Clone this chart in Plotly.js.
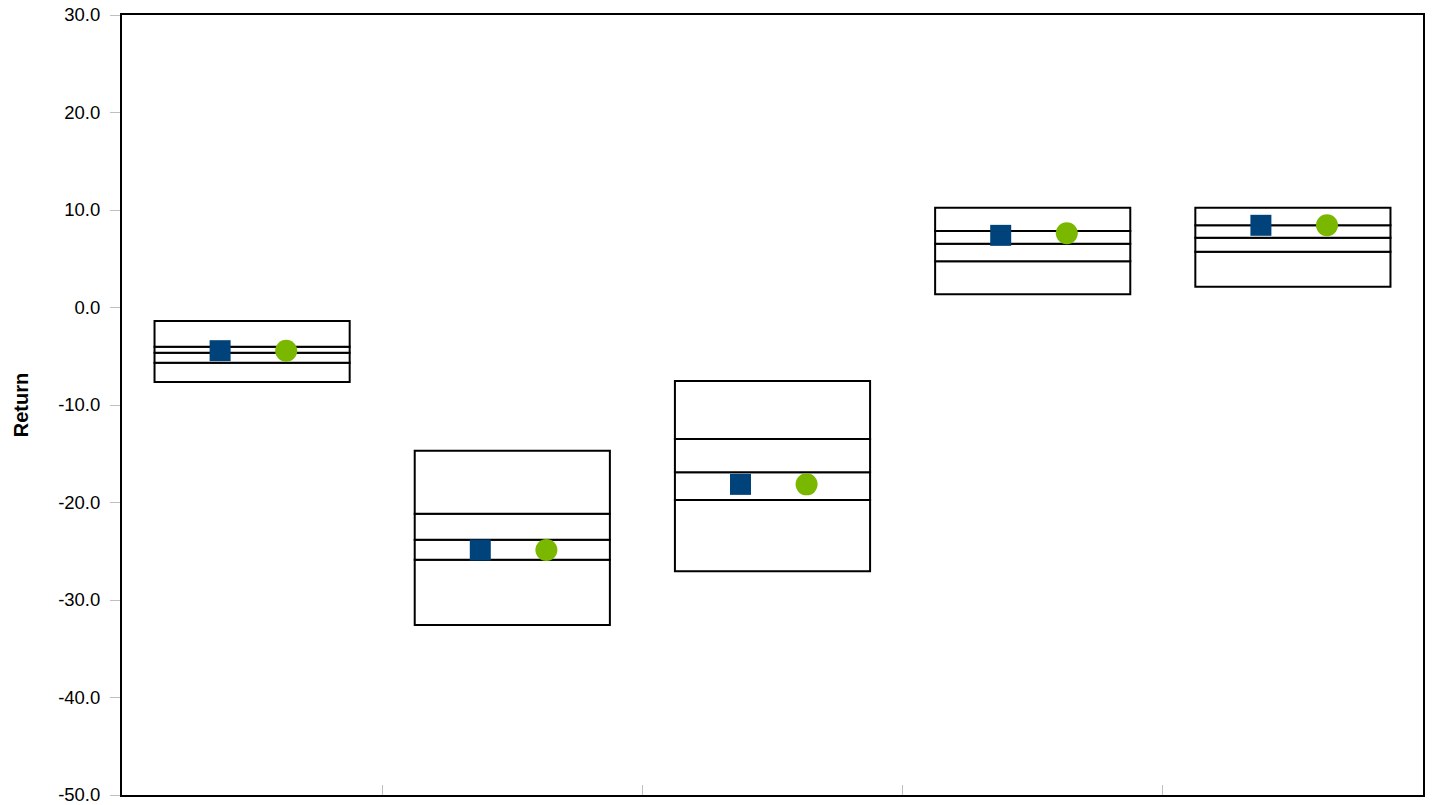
<!DOCTYPE html>
<html>
<head>
<meta charset="utf-8">
<script src="https://cdn.plot.ly/plotly-3.0.1.min.js"></script>
<style>html,body{margin:0;padding:0;background:#fff;}#chart{width:1432px;height:805px;}</style>
</head>
<body>
<div id="chart"></div>
<script>
// Categories (no labels shown in the reference)
const categories = ["Period 1", "Period 2", "Period 3", "Period 4", "Period 5"];
// Percentile bands (floating box boundaries)
const p95 = [-1.38, -14.69, -7.54, 10.24, 10.24];
const p75 = [-4.02, -21.15, -13.49, 7.85, 8.43];
const p50 = [-4.64, -23.81, -16.90, 6.54, 7.16];
const p25 = [-5.66, -25.87, -19.74, 4.74, 5.72];
const p05 = [-7.64, -32.56, -27.06, 1.35, 2.13];
// Point markers
const seriesSquare = [-4.43, -24.87, -18.14, 7.40, 8.43];
const seriesCircle = [-4.43, -24.87, -18.14, 7.61, 8.43];
const yTickVals = [-50, -40, -30, -20, -10, 0, 10, 20, 30];

const xc = categories.map((c, i) => i + 0.5);
const bands = [[p05, p25], [p25, p50], [p50, p75], [p75, p95]];
const traces = bands.map(([lo, hi]) => ({
  type: 'bar',
  x: xc,
  base: lo,
  y: hi.map((v, i) => v - lo[i]),
  width: 0.75,
  marker: {color: '#ffffff', line: {color: '#000000', width: 2}},
  hoverinfo: 'skip',
  showlegend: false
}));
traces.push({
  type: 'scatter', mode: 'markers',
  x: xc.map(v => v - 0.123), y: seriesSquare,
  marker: {symbol: 'square', size: 21, color: '#00427A'},
  showlegend: false, hoverinfo: 'skip'
});
traces.push({
  type: 'scatter', mode: 'markers',
  x: xc.map(v => v + 0.131), y: seriesCircle,
  marker: {symbol: 'circle', size: 22, color: '#7AB800'},
  showlegend: false, hoverinfo: 'skip'
});

const layout = {
  width: 1432, height: 805,
  margin: {l: 122, r: 9, t: 15, b: 10, pad: 0},
  paper_bgcolor: '#ffffff', plot_bgcolor: '#ffffff',
  barmode: 'overlay',
  font: {family: 'Liberation Sans, Arial, sans-serif', size: 18, color: '#000'},
  xaxis: {
    range: [0, 5], tickvals: [1, 2, 3, 4], showticklabels: false,
    ticks: 'inside', ticklen: 10, tickwidth: 1, tickcolor: '#c0c0c0',
    showgrid: false, zeroline: false,
    showline: true, linecolor: '#000', linewidth: 2, mirror: true
  },
  yaxis: {
    range: [-50, 30], tickvals: yTickVals,
    ticktext: yTickVals.map(v => v.toFixed(1)),
    ticks: 'outside', ticklen: 10, tickwidth: 1, tickcolor: '#c0c0c0',
    tickfont: {size: 18.5}, ticklabelstandoff: 6, ticklabeloverflow: 'allow',
    showgrid: false, zeroline: false,
    showline: true, linecolor: '#000', linewidth: 2, mirror: true,
    title: {text: '<b>Return</b>', font: {size: 20}, standoff: 24}
  }
};
Plotly.newPlot('chart', traces, layout, {staticPlot: true, displayModeBar: false});
</script>
</body>
</html>
